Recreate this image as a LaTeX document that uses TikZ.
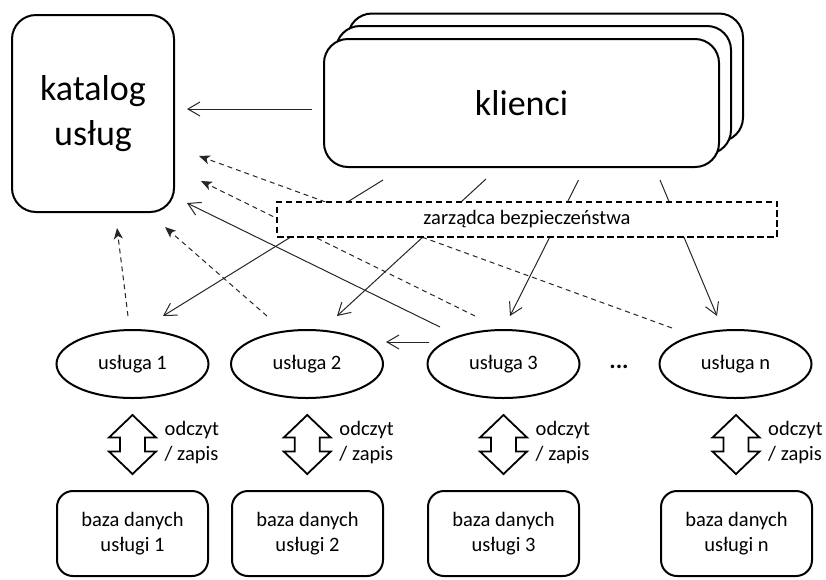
\documentclass[tikz,border=0pt]{standalone}
\usepackage{fontspec}
\setmainfont{Carlito}
\usetikzlibrary{arrows.meta,shapes.geometric,calc}
\begin{document}
\begin{tikzpicture}[x=1pt,y=-1pt,
  box/.style={draw=black, line width=2pt, rounded corners=24pt, fill=white, inner sep=0pt, align=center},
  bigtext/.style={font=\fontsize{36}{45}\selectfont},
  smalltext/.style={font=\fontsize{20.5}{25}\selectfont},
  svc/.style={draw=black, line width=2pt, ellipse, fill=white, minimum width=152pt, minimum height=68pt, inner sep=0pt, smalltext},
  dbbox/.style={box, rounded corners=16pt, minimum width=151pt, minimum height=85pt, smalltext},
  clbox/.style={box, minimum width=395pt, minimum height=128pt, bigtext},
  conn/.style={draw=black!85, line width=1pt, -{Straight Barb[length=12pt,width=14pt,line width=1pt]}},
  dconn/.style={draw=black!85, line width=1pt, dash pattern=on 5pt off 4pt, -{Stealth[length=11pt,width=9pt,inset=3pt]}},
  rwlabel/.style={anchor=west, align=left, inner sep=0pt, smalltext},
  secbox/.style={draw=black, line width=2pt, dash pattern=on 6.5pt off 3.5pt, fill=white, minimum width=500pt, minimum height=35pt, inner sep=0pt, smalltext},
  rwpic/.pic={\draw[line width=1.8pt, fill=white, line join=miter]
     (0,-29.5) -- (23.5,-7) -- (12.5,-7) -- (12.5,7) -- (23.5,7) -- (0,29.5)
     -- (-23.5,7) -- (-12.5,7) -- (-12.5,-7) -- (-23.5,-7) -- cycle;}
]
\useasboundingbox (0,0) rectangle (826,579);

% catalog
\node[box, minimum width=162pt, minimum height=197pt, bigtext] (kat) at (93,113.5) {katalog\\usług};

% clients (stacked)
\node[clbox] (kl3) at (545.5,77.5) {};
\node[clbox] (kl2) at (533.5,90) {};
\node[clbox] (kl) at (521.5,103) {klienci};

% services
\node[svc] (u1) at (132.5,364) {usługa 1};
\node[svc] (u2) at (307,364) {usługa 2};
\node[svc] (u3) at (503.5,364) {usługa 3};
\node[svc] (un) at (735.5,364) {usługa n};
\node[font=\fontsize{24}{28}\selectfont\bfseries] (dots) at (619,367) {...};

% databases
\node[dbbox] (db1) at (132.5,533.5) {baza danych\\usługi 1};
\node[dbbox] (db2) at (307.5,533.5) {baza danych\\usługi 2};
\node[dbbox] (db3) at (503.5,533.5) {baza danych\\usługi 3};
\node[dbbox] (dbn) at (736.5,533.5) {baza danych\\usługi n};

% read / write arrows
\foreach \s/\d in {u1/db1,u2/db2,u3/db3,un/dbn}{
  \pic at ($(\s.south)!0.5!(\d.north)$) {rwpic};
  \node[rwlabel] (rw\s) at ($($(\s.south)!0.5!(\d.north)$)+(32,-2)$) {odczyt\\/ zapis};
}

% connectors
\draw[conn] ($(kl.west)+(-11,6)$) -- ($(kat.east)+(12,-4.5)$);
\draw[conn] ($(kl.south)+(-138.5,12)$) -- ($(u1.north)+(30.5,-13)$);
\draw[conn] ($(kl.south)+(-35.5,11)$) -- ($(u2.north)+(30,-13)$);
\draw[conn] ($(kl.south)+(57,12)$) -- ($(u3.north)+(6.5,-13)$);
\draw[conn] ($(kl.south)+(138.5,12)$) -- ($(un.north)+(-18.5,-13)$);

\draw[dconn] ($(u1.north)+(-4.5,-13)$) -- ($(kat.south)+(24,15)$);
\draw[dconn] ($(u2.north)+(-40,-13)$) -- ($(kat.south east)+(-10,14)$);
\draw[conn] ($(u3.north)+(-63.5,-2)$) -- ($(kat.south east)+(12,-10)$);
\draw[dconn] ($(u3.north)+(-28.5,-13)$) -- ($(kat.east)+(26,67.5)$);
\draw[dconn] ($(un.north)+(-63.5,-1)$) -- ($(kat.east)+(24,42.5)$);
\draw[conn] ($(u3.west)+(2.5,-22)$) -- ($(u2.east)+(2,-22)$);

% security manager (drawn over the connectors)
\node[secbox] (zar) at (527,219) {zarządca bezpieczeństwa};
\end{tikzpicture}
\end{document}
